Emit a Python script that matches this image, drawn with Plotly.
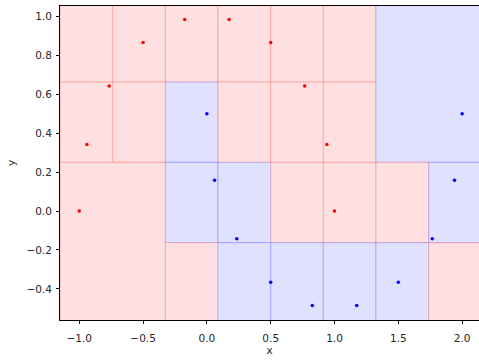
import plotly.graph_objects as go

# Data points (two moons)
red_x = [1.0, 0.940, 0.766, 0.5, 0.174, -0.174, -0.5, -0.766, -0.940, -1.0]
red_y = [0.0, 0.342, 0.643, 0.866, 0.985, 0.985, 0.866, 0.643, 0.342, 0.0]
blue_x = [0.0, 0.060, 0.234, 0.5, 0.826, 1.174, 1.5, 1.766, 1.940, 2.0]
blue_y = [0.5, 0.158, -0.143, -0.366, -0.485, -0.485, -0.366, -0.143, 0.158, 0.5]

# Partition cells (leaf regions) and their class (0 = red, 1 = blue)
cell_x0 = [-1.15, -0.7375, -1.15, -0.7375, -1.15, -0.325, 0.0875, -0.325, 0.0875, -0.325, 0.0875, -0.325, 0.0875,
           0.5, 0.9125, 0.5, 0.9125, 0.5, 0.9125, 0.5, 0.9125, 1.325, 1.325, 1.7375, 1.325, 1.7375]
cell_x1 = [-0.7375, -0.325, -0.7375, -0.325, -0.325, 0.0875, 0.5, 0.0875, 0.5, 0.0875, 0.5, 0.0875, 0.5,
           0.9125, 1.325, 0.9125, 1.325, 0.9125, 1.325, 0.9125, 1.325, 2.15, 1.7375, 2.15, 1.7375, 2.15]
cell_y0 = [0.6625, 0.6625, 0.25, 0.25, -0.575, 0.6625, 0.6625, 0.25, 0.25, -0.1625, -0.1625, -0.575, -0.575,
           0.6625, 0.6625, 0.25, 0.25, -0.1625, -0.1625, -0.575, -0.575, 0.25, -0.1625, -0.1625, -0.575, -0.575]
cell_y1 = [1.075, 1.075, 0.6625, 0.6625, 0.25, 1.075, 1.075, 0.6625, 0.6625, 0.25, 0.25, -0.1625, -0.1625,
           1.075, 1.075, 0.6625, 0.6625, 0.25, 0.25, -0.1625, -0.1625, 1.075, 0.25, 0.25, -0.1625, -0.1625]
cell_cls = [0, 0, 0, 0, 0, 0, 0, 1, 0, 1, 1, 0, 1,
            0, 0, 0, 0, 0, 0, 1, 1, 1, 0, 1, 1, 0]

x_ticks = [-1.0, -0.5, 0.0, 0.5, 1.0, 1.5, 2.0]
y_ticks = [-0.4, -0.2, 0.0, 0.2, 0.4, 0.6, 0.8, 1.0]

fill_colors = ["#FFE0E0", "#E0E0FF"]
edge_colors = ["rgba(255,0,0,0.17)", "rgba(0,0,255,0.17)"]

shapes = []
for x0, x1, y0, y1, c in zip(cell_x0, cell_x1, cell_y0, cell_y1, cell_cls):
    shapes.append(dict(type="rect", xref="x", yref="y", x0=x0, x1=x1, y0=y0, y1=y1,
                       fillcolor=fill_colors[c], line=dict(color=edge_colors[c], width=1.2),
                       layer="below"))

fig = go.Figure()
fig.add_trace(go.Scatter(x=red_x, y=red_y, mode="markers",
                         marker=dict(color="red", size=3.5, line=dict(width=0)), showlegend=False))
fig.add_trace(go.Scatter(x=blue_x, y=blue_y, mode="markers",
                         marker=dict(color="blue", size=3.5, line=dict(width=0)), showlegend=False))

font = dict(family="DejaVu Sans", size=10.5, color="#262626")
fig.update_layout(
    width=479, height=360,
    margin=dict(l=60, r=0, t=6, b=40),
    paper_bgcolor="white", plot_bgcolor="white",
    shapes=shapes,
    font=font,
    xaxis=dict(range=[-1.151, 2.132], tickvals=x_ticks, tickformat=".1f",
               showgrid=False, zeroline=False, showline=True, linecolor="black", linewidth=1,
               mirror=True, ticks="outside", ticklen=3, tickcolor="black", ticklabelstandoff=5,
               title=dict(text="x", standoff=3, font=font)),
    yaxis=dict(range=[-0.56, 1.054], tickvals=y_ticks, tickformat=".1f",
               showgrid=False, zeroline=False, showline=True, linecolor="black", linewidth=1,
               mirror=False, ticks="outside", ticklen=3, tickcolor="black", ticklabelstandoff=2,
               title=dict(text="y", standoff=8, font=font)),
)

fig.write_html("out.html")
